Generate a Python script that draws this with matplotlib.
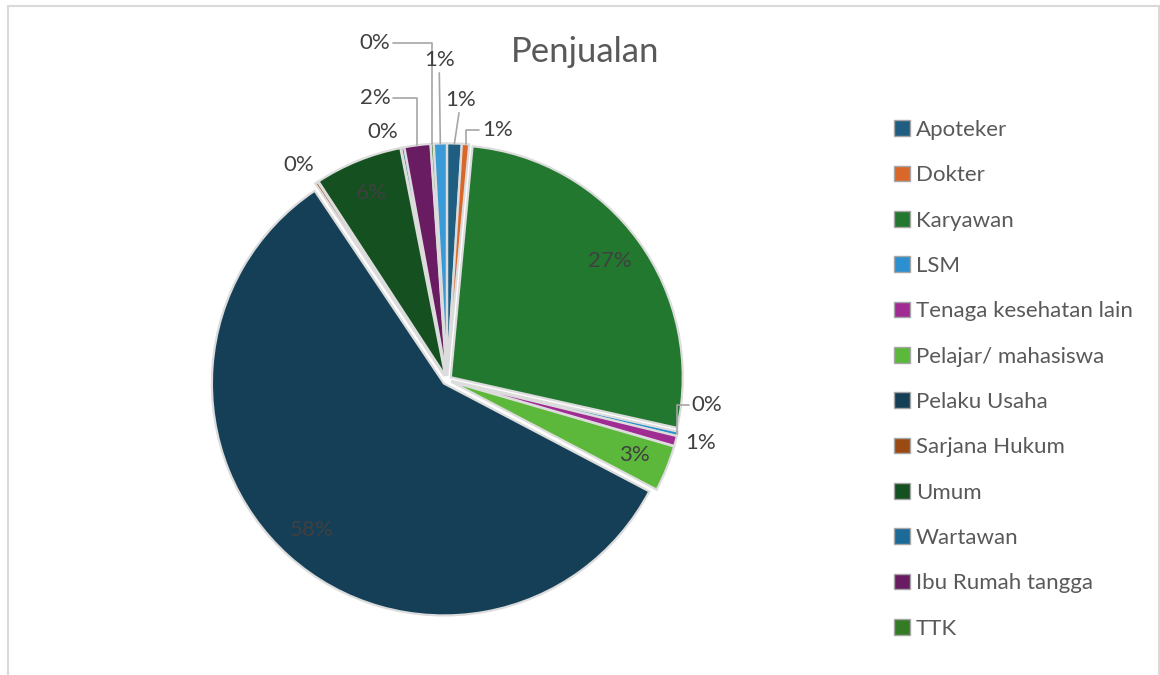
import matplotlib.pyplot as plt
from matplotlib.patches import Patch, Rectangle
import numpy as np

plt.rcParams['font.family'] = ['Lato', 'DejaVu Sans']

# Data (percent shares)
categories = ['Apoteker', 'Dokter', 'Karyawan', 'LSM', 'Tenaga kesehatan lain',
              'Pelajar/ mahasiswa', 'Pelaku Usaha', 'Sarjana Hukum', 'Umum',
              'Wartawan', 'Ibu Rumah tangga', 'TTK', 'Lainnya']
shares = [1.0, 0.5, 27.0, 0.3, 0.7, 3.2, 57.9, 0.2, 6.1, 0.2, 1.8, 0.2, 0.9]
colors = ['#1f5e80', '#d9672a', '#22782f', '#2b8fd0', '#a02b93', '#5cb83a',
          '#143f57', '#9c4a14', '#145020', '#1c6a98', '#6a1c62', '#357a25',
          '#3a9ad8']
n_legend = 12  # last slice is not shown in the legend

# where the small slices put their labels (in pie radii) and the leader kind
outside = {
    0: (0.060, 1.207, 'line'),
    1: (0.216, 1.078, 'elbow'),
    3: (1.121, -0.108, 'elbow'),
    4: (1.095, -0.272, None),
    7: (-0.638, 0.927, None),
    9: (-0.276, 1.069, None),
    10: (-0.310, 1.216, 'elbow'),
    11: (-0.310, 1.453, 'elbow'),
    12: (-0.034, 1.379, 'line'),
}

W, H = 1160, 675
fig = plt.figure(figsize=(W / 100, H / 100), dpi=100)

# chart border
fig.patches.append(Rectangle((8 / W, -0.05), (1159 - 8) / W, 1.05 - 6 / H,
                             transform=fig.transFigure, fill=False,
                             edgecolor='#d9d9d9', linewidth=1.5))

R = 232
cx, cy = 447, 380
lim = 1.3
size = 2 * lim * R
ax = fig.add_axes([(cx - size / 2) / W, (H - cy - size / 2) / H, size / W, size / H])

wedges, _ = ax.pie(shares, colors=colors, startangle=90, counterclock=False,
                   explode=[0.02] * len(shares), radius=1,
                   wedgeprops=dict(edgecolor='#dcdcdc', linewidth=1.6))
ax.set_xlim(-lim, lim)
ax.set_ylim(-lim, lim)
ax.set_aspect('equal')
ax.axis('off')

for i, w in enumerate(wedges):
    pct = shares[i] / sum(shares) * 100
    txt = '%d%%' % int(pct + 0.5)
    mid = np.deg2rad((w.theta1 + w.theta2) / 2)
    x0, y0 = w.center
    if i in outside:
        tx, ty, kind = outside[i]
        ex, ey = x0 + np.cos(mid) * 1.0, y0 + np.sin(mid) * 1.0
        if kind is None:
            ax.text(tx, ty, txt, ha='center', va='center', fontsize=16, color='#404040')
        else:
            cs = 'angle,angleA=0,angleB=90,rad=0' if kind == 'elbow' else 'arc3'
            ax.annotate(txt, xy=(ex, ey), xytext=(tx, ty), ha='center', va='center',
                        fontsize=16, color='#404040',
                        arrowprops=dict(arrowstyle='-', color='#a6a6a6', lw=1.2,
                                        connectionstyle=cs, shrinkA=0, shrinkB=0))
    else:
        ax.text(x0 + np.cos(mid) * 0.85, y0 + np.sin(mid) * 0.85, txt,
                ha='center', va='center', fontsize=16, color='#404040')

fig.text(585 / W, 1 - 52 / H, 'Penjualan', ha='center', va='center',
         fontsize=25, color='#595959')

handles = [Patch(facecolor=colors[i], edgecolor='#a6a6a6', label=categories[i])
           for i in range(n_legend)]
fig.legend(handles=handles, loc='upper left', bbox_to_anchor=(894 / W, 1 - 120 / H),
           frameon=False, fontsize=16, labelspacing=1.14, handlelength=0.7,
           handleheight=0.7, handletextpad=0.28, borderpad=0, borderaxespad=0,
           labelcolor='#595959')

fig.savefig('out.png', dpi=100)
